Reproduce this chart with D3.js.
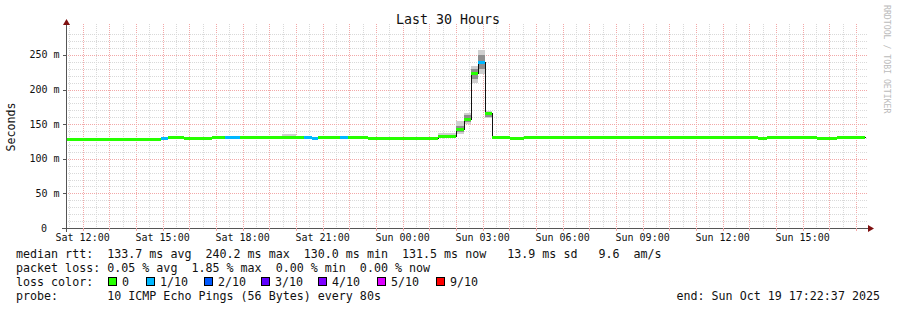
<!DOCTYPE html>
<html>
<head>
<meta charset="utf-8">
<script src="https://cdn.jsdelivr.net/npm/d3@7"></script>
<style>
  html, body { margin: 0; padding: 0; background: #fff; }
  svg { display: block; font-family: "DejaVu Sans Mono", monospace; }
  text { white-space: pre; }
</style>
</head>
<body>
<svg id="chart" width="897" height="310"></svg>
<script>
// median rtt steps (start time of each step, ms)
const segStart = [
  '2025-10-18 11:22', '2025-10-18 14:57', '2025-10-18 15:13', '2025-10-18 15:47',
  '2025-10-18 16:02', '2025-10-18 16:50', '2025-10-18 17:21', '2025-10-18 17:55',
  '2025-10-18 19:29', '2025-10-18 20:01', '2025-10-18 20:19', '2025-10-18 20:35',
  '2025-10-18 20:50', '2025-10-18 21:38', '2025-10-18 21:56', '2025-10-18 22:41',
  '2025-10-19 01:20', '2025-10-19 02:01', '2025-10-19 02:17', '2025-10-19 02:33',
  '2025-10-19 02:49', '2025-10-19 03:05', '2025-10-19 03:20', '2025-10-19 04:02',
  '2025-10-19 04:32', '2025-10-19 13:20', '2025-10-19 13:40', '2025-10-19 15:33',
  '2025-10-19 16:18', '2025-10-19 17:21'
]
const median   = [129.3, 130.5, 131.2, 130.5, 130.0, 131.2, 131.2, 131.2, 131.2, 131.2, 131.2, 130.3, 131.2, 131.2, 131.2, 130.0, 133.3, 143.4, 157.8, 223.7, 240.2, 165.9, 131.2, 130.0, 131.2, 130.0, 131.2, 130.0, 131.2]
const lossCnt  = [0, 1, 0, 0, 0, 0, 1, 0, 0, 0, 1, 1, 0, 1, 0, 0, 0, 0, 0, 0, 1, 0, 0, 0, 0, 0, 0, 0, 0]
const smokeLo  = [128.3, 129.5, 130.0, 128.8, 129.0, 130.0, 130.0, 130.0, 130.0, 130.0, 130.0, 129.3, 130.0, 130.0, 130.0, 129.0, 131.0, 136.0, 150.0, 210.0, 222.0, 158.5, 130.2, 129.0, 130.2, 129.0, 130.2, 129.0, 130.2]
const smokeHi  = [130.5, 131.8, 132.5, 131.8, 131.2, 132.5, 132.5, 132.5, 135.5, 132.5, 132.5, 131.5, 132.5, 132.5, 132.5, 131.2, 137.5, 154.0, 166.6, 234.0, 257.0, 169.5, 132.4, 131.2, 132.4, 131.2, 132.4, 131.2, 132.4]
const coreLo   = [128.8, 130.0, 130.6, 129.6, 129.5, 130.6, 130.6, 130.6, 130.6, 130.6, 130.6, 129.8, 130.6, 130.6, 130.6, 129.5, 132.0, 139.0, 153.0, 215.0, 230.0, 161.0, 130.6, 129.5, 130.6, 129.5, 130.6, 129.5, 130.6]
const coreHi   = [129.9, 131.1, 131.9, 131.2, 130.6, 131.9, 131.9, 131.9, 133.0, 131.9, 131.9, 130.9, 131.9, 131.9, 131.9, 130.6, 135.0, 148.0, 163.0, 230.0, 250.0, 168.0, 131.9, 130.6, 131.9, 130.6, 131.9, 130.6, 131.9]

const lossLabels = ['0', '1/10', '2/10', '3/10', '4/10', '5/10', '9/10']
const lossColors = ['#26ff00', '#00b8ff', '#0059ff', '#5e00ff', '#7e00ff', '#dd00ff', '#ff0000']

const yTickVals = [0, 50, 100, 150, 200, 250]
const yTickText = ['0', '50 m', '100 m', '150 m', '200 m', '250 m']

const legendLines = [
  'median rtt:  133.7 ms avg  240.2 ms max  130.0 ms min  131.5 ms now   13.9 ms sd   9.6  am/s',
  'packet loss: 0.05 % avg  1.85 % max  0.00 % min  0.00 % now',
  'loss color:',
  'probe:       10 ICMP Echo Pings (56 Bytes) every 80s'
]

const parse = d3.timeParse('%Y-%m-%d %H:%M')
const parseS = d3.timeParse('%Y-%m-%d %H:%M:%S')
const tStart = parseS('2025-10-18 11:22:37')
const tEnd = parseS('2025-10-19 17:22:37')
const times = segStart.map(parse)

const pLeft = 66, pRight = 866, pTop = 28, pBottom = 228
const x = d3.scaleTime().domain([tStart, tEnd]).range([pLeft, pRight])
const y = d3.scaleLinear().domain([0, 289]).range([pBottom, pTop])

const svg = d3.select('#chart')
const axisCol = '#555', arrowCol = '#7f1010'
const minorCol = '#d9d9d9', majorCol = '#f2a8a8'

// grid
const g = svg.append('g').attr('shape-rendering', 'crispEdges')
d3.timeMinute.every(30).range(tStart, tEnd).forEach(t => {
  const major = t.getMinutes() === 0
  g.append('line')
    .attr('x1', Math.round(x(t)) + 0.5).attr('x2', Math.round(x(t)) + 0.5)
    .attr('y1', pTop - 4).attr('y2', pBottom)
    .attr('stroke', major ? majorCol : minorCol)
    .attr('stroke-dasharray', '1,1')
})
d3.range(10, 290, 10).forEach(v => {
  const major = v % 50 === 0
  g.append('line')
    .attr('x1', pLeft).attr('x2', pRight + 2)
    .attr('y1', Math.round(y(v)) + 0.5).attr('y2', Math.round(y(v)) + 0.5)
    .attr('stroke', major ? majorCol : minorCol)
    .attr('stroke-dasharray', '1,1')
})

// smoke
const segs = median.map((m, i) => ({
  t0: times[i], t1: times[i + 1], m, loss: lossCnt[i],
  lo: smokeLo[i], hi: smokeHi[i], clo: coreLo[i], chi: coreHi[i]
}))
svg.append('g').attr('shape-rendering', 'crispEdges')
  .selectAll('rect').data(segs).join('rect')
  .attr('x', d => x(d.t0)).attr('width', d => x(d.t1) - x(d.t0))
  .attr('y', d => y(d.hi)).attr('height', d => y(d.lo) - y(d.hi))
  .attr('fill', '#cfcfcf')
svg.append('g').attr('shape-rendering', 'crispEdges')
  .selectAll('rect').data(segs).join('rect')
  .attr('x', d => x(d.t0)).attr('width', d => x(d.t1) - x(d.t0))
  .attr('y', d => y(d.chi)).attr('height', d => y(d.clo) - y(d.chi))
  .attr('fill', '#8e8e8e')

// black step line under the median bands
const stepData = segs.map(d => ({ t: d.t0, m: d.m }))
stepData.push({ t: times[times.length - 1], m: median[median.length - 1] })
const line = d3.line()
  .x(d => Math.round(x(d.t)) + 0.5)
  .y(d => Math.round(y(d.m)) + 0.5)
  .curve(d3.curveStepAfter)
svg.append('path')
  .attr('d', line(stepData))
  .attr('fill', 'none')
  .attr('stroke', '#111')
  .attr('stroke-width', 1)
  .attr('shape-rendering', 'crispEdges')

// median coloured by loss
svg.append('g').attr('shape-rendering', 'crispEdges')
  .selectAll('rect').data(segs).join('rect')
  .attr('x', d => x(d.t0)).attr('width', d => x(d.t1) - x(d.t0))
  .attr('y', d => Math.round(y(d.m)) - 1).attr('height', 3)
  .attr('fill', d => lossColors[d.loss])

// axes
const ax = svg.append('g').attr('shape-rendering', 'crispEdges')
ax.append('line').attr('x1', pLeft - 4).attr('x2', pRight + 2)
  .attr('y1', pBottom + 0.5).attr('y2', pBottom + 0.5).attr('stroke', axisCol)
ax.append('line').attr('x1', pLeft + 0.5).attr('x2', pLeft + 0.5)
  .attr('y1', pBottom + 4).attr('y2', pTop - 4).attr('stroke', axisCol)
d3.timeHour.every(1).range(tStart, tEnd).forEach(t => {
  ax.append('line')
    .attr('x1', Math.round(x(t)) + 0.5).attr('x2', Math.round(x(t)) + 0.5)
    .attr('y1', pBottom).attr('y2', pBottom + 3).attr('stroke', majorCol)
})
yTickVals.forEach(v => {
  ax.append('line').attr('x1', pLeft - 3).attr('x2', pLeft)
    .attr('y1', Math.round(y(v)) + 0.5).attr('y2', Math.round(y(v)) + 0.5)
    .attr('stroke', axisCol)
})
svg.append('path')
  .attr('d', `M${pRight + 2},${pBottom - 3}L${pRight + 8},${pBottom + 0.5}L${pRight + 2},${pBottom + 4}Z`)
  .attr('fill', arrowCol)
svg.append('path')
  .attr('d', `M${pLeft - 3},${pTop - 3}L${pLeft + 0.5},${pTop - 9}L${pLeft + 4},${pTop - 3}Z`)
  .attr('fill', arrowCol)

// tick labels
svg.append('g').selectAll('text')
  .data(d3.timeHour.every(3).range(tStart, tEnd)).join('text')
  .attr('x', d => x(d)).attr('y', pBottom + 13)
  .attr('text-anchor', 'middle').attr('font-size', 10).attr('fill', '#111')
  .text(d3.timeFormat('%a %H:%M'))
svg.append('g').selectAll('text')
  .data(yTickVals).join('text')
  .attr('x', (d, i) => yTickText[i].includes('m') ? 59.5 : 47)
  .attr('y', d => y(d) + 3.5)
  .attr('text-anchor', 'end').attr('font-size', 10).attr('fill', '#111')
  .text((d, i) => yTickText[i])

// title, axis title, watermark
svg.append('text').attr('x', 448).attr('y', 24).attr('text-anchor', 'middle')
  .attr('font-size', 13.3).attr('fill', '#111').text('Last 30 Hours')
svg.append('text').attr('transform', 'translate(15,127) rotate(-90)')
  .attr('text-anchor', 'middle').attr('font-size', 11.6).attr('fill', '#111').text('Seconds')
svg.append('text').attr('transform', 'translate(884,5) rotate(90)')
  .attr('font-size', 8.2).attr('fill', '#bbb').text('RRDTOOL / TOBI OETIKER')

// legend
const lg = svg.append('g').attr('font-size', 11.66).attr('fill', '#111')
legendLines.forEach((s, i) => {
  lg.append('text').attr('x', 16).attr('y', 258 + i * 14).text(s)
})
const boxX = [108, 146, 204, 261, 318, 377, 436]
lossLabels.forEach((s, i) => {
  svg.append('rect').attr('x', boxX[i] + 0.5).attr('y', 277.5).attr('width', 8).attr('height', 8)
    .attr('fill', lossColors[i]).attr('stroke', '#000').attr('shape-rendering', 'crispEdges')
  lg.append('text').attr('x', boxX[i] + 14).attr('y', 286).text(s)
})
lg.append('text').attr('x', 880).attr('y', 300).attr('text-anchor', 'end')
  .text('end: Sun Oct 19 17:22:37 2025')
</script>
</body>
</html>
